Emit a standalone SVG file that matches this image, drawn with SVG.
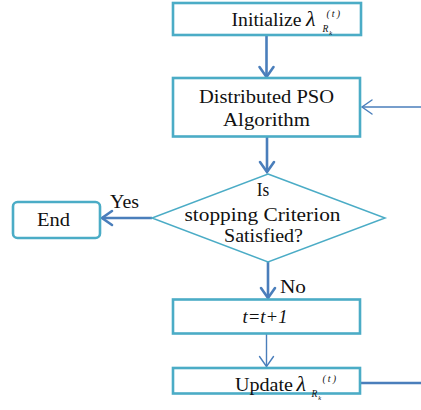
<svg xmlns="http://www.w3.org/2000/svg" width="421" height="410" viewBox="0 0 421 410">
  <style>
    .box { fill: #ffffff; stroke: #4BACC6; stroke-width: 2.6; }
    .dia { fill: #ffffff; stroke: #4BACC6; stroke-width: 1.5; }
    .lbl { font-family: "Liberation Serif", "Times New Roman", serif; font-size: 18px; fill: #111111; }
    .mid { text-anchor: middle; }
    .it { font-style: italic; }
    .lam { font-size: 22px; }
    .sup { font-size: 10px; }
    .sub { font-size: 9.5px; }
    .sub2 { font-size: 6.5px; }
    .thick { fill: none; stroke: #4A7EBB; stroke-width: 2.6; }
    .thin { fill: none; stroke: #4A7EBB; stroke-width: 1.4; }
  </style>
  <defs>
    <marker id="headThick" markerUnits="userSpaceOnUse" viewBox="-12 -9 14 18" markerWidth="14" markerHeight="18" refX="0" refY="0" orient="auto" overflow="visible">
      <path d="M-10,-7 L0,0 L-10,7" fill="none" stroke="#4A7EBB" stroke-width="2.6" stroke-linecap="round"/>
    </marker>
    <marker id="headThin" markerUnits="userSpaceOnUse" viewBox="-12 -9 14 18" markerWidth="14" markerHeight="18" refX="0" refY="0" orient="auto" overflow="visible">
      <path d="M-10,-7 L0,0 L-10,7" fill="none" stroke="#4A7EBB" stroke-width="1.4" stroke-linecap="round"/>
    </marker>
  </defs>

  <!-- connectors -->
  <g id="connectors">
    <line class="thick" x1="266.5" y1="35" x2="266.5" y2="77" marker-end="url(#headThick)"/>
    <line class="thick" x1="267" y1="137" x2="267" y2="172" marker-end="url(#headThick)"/>
    <line class="thick" x1="152" y1="218" x2="102" y2="218" marker-end="url(#headThick)"/>
    <line class="thick" x1="268" y1="262" x2="268" y2="298" marker-end="url(#headThick)"/>
    <line class="thin" x1="266.5" y1="334" x2="266.5" y2="366.5" marker-end="url(#headThin)"/>
    <line class="thin" x1="421" y1="107" x2="362" y2="107" marker-end="url(#headThin)"/>
    <line class="thick" x1="361" y1="383" x2="421" y2="383"/>
    <text class="lbl" x="110" y="207.5" textLength="29" lengthAdjust="spacingAndGlyphs">Yes</text>
    <text class="lbl" x="280" y="292.5" textLength="26" lengthAdjust="spacingAndGlyphs">No</text>
  </g>

  <!-- initialise multipliers -->
  <g id="init">
    <rect class="box" x="173" y="3" width="188" height="32"/>
    <text class="lbl" x="231.5" y="26" textLength="70" lengthAdjust="spacingAndGlyphs">Initialize</text>
    <text class="lbl it lam" x="306" y="26">λ</text>
    <text class="lbl it sup" x="326.5" y="17">(<tspan dx="2">t</tspan><tspan dx="2">)</tspan></text>
    <text class="lbl it sub" x="322.5" y="32">R<tspan class="sub2" dx="1" dy="2.5">k</tspan></text>
  </g>

  <!-- PSO step -->
  <g id="pso">
    <rect class="box" x="173" y="78" width="187" height="58.5"/>
    <text class="lbl mid" x="266.5" y="102.5" textLength="135" lengthAdjust="spacingAndGlyphs">Distributed PSO</text>
    <text class="lbl mid" x="266.5" y="125.5" textLength="87" lengthAdjust="spacingAndGlyphs">Algorithm</text>
  </g>

  <!-- stopping test -->
  <g id="decision">
    <polygon class="dia" points="268,174 385,218 268,262 152,218"/>
    <text class="lbl mid" x="263" y="196" textLength="12.5" lengthAdjust="spacingAndGlyphs">Is</text>
    <text class="lbl mid" x="262.5" y="220.5" textLength="156" lengthAdjust="spacingAndGlyphs">stopping Criterion</text>
    <text class="lbl mid" x="263.5" y="242" textLength="79" lengthAdjust="spacingAndGlyphs">Satisfied?</text>
  </g>

  <!-- terminal -->
  <g id="end">
    <rect class="box" x="13" y="202" width="87" height="36" rx="4.5" ry="4.5"/>
    <text class="lbl mid" x="53.5" y="225.5" textLength="33" lengthAdjust="spacingAndGlyphs">End</text>
  </g>

  <!-- iteration counter -->
  <g id="increment">
    <rect class="box" x="173" y="299.5" width="187" height="34"/>
    <text class="lbl mid it" x="265" y="323" textLength="45" lengthAdjust="spacingAndGlyphs">t=t+1</text>
  </g>

  <!-- update multipliers -->
  <g id="update">
    <rect class="box" x="173" y="368" width="187" height="25.5"/>
    <text class="lbl" x="235" y="390.5" textLength="58" lengthAdjust="spacingAndGlyphs">Update</text>
    <text class="lbl it lam" x="296.5" y="390.5">λ</text>
    <text class="lbl it sup" x="322.5" y="382">(<tspan dx="2">t</tspan><tspan dx="2">)</tspan></text>
    <text class="lbl it sub" x="311.5" y="397">R<tspan class="sub2" dx="1" dy="2.5">k</tspan></text>
  </g>
</svg>
